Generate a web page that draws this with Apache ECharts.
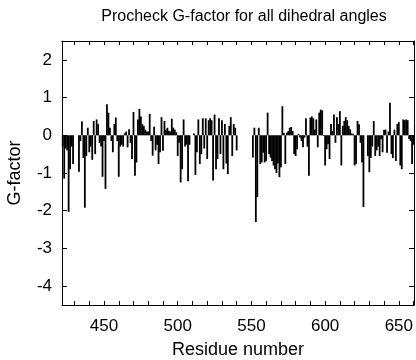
<!DOCTYPE html>
<html>
<head>
<meta charset="utf-8">
<script src="https://cdn.jsdelivr.net/npm/echarts@6/dist/echarts.min.js"></script>
<style>
html,body{margin:0;padding:0;background:#fff;}
#chart{width:416px;height:360px;}
</style>
</head>
<body>
<div id="chart"></div>
<script>
// ---- data ----
const firstResidue = 422;
const gFactor = [
  -0.3, -1.15, -0.35, -0.4, -2.03, -0.9, -0.3, -0.76,            // 422-429
  null, null, null,                                               // 430-432
  -0.97, -0.15, 0.37, -0.6, -1.92, -0.55, 0.2, -0.45,             // 433-440
  -0.3, -0.65, 0.38, -0.5, 0.42, 0.3, -0.2, -0.3, -1.1, -0.15,    // 441-450
  -1.42, 0.82, 0.6, 0.2, -0.15, -0.45, 0.3, 0.47, -0.15, -1.1,    // 451-460
  -0.3, -0.25, -0.3, 0.05, 0.1, -0.32, 0.16, -0.2, -0.63, 0.62,   // 461-470
  -1.07, -0.72, 0.42, 0.7, 0.5, 0.3, 0.25, 0.15, 0.1, 0.1,        // 471-480
  0.57, -0.15, -0.54, 0.23, -0.4, -0.25, -0.76, -0.45, 0.48, -0.41, // 481-490
  0.38, 0.15, 0.2, 0.12, 0.1, 0.44, 0.2, 0.15, 0.08, -0.55,       // 491-500
  -0.2, -1.25, -0.9, 0.42, -0.3, -0.25, -1.22, -0.25, null, null, // 501-510
  0.05, -1.05, -0.45, 0.42, -0.76, -0.5, 0.45, -0.35, 0.45, -0.63, // 511-520
  0.4, 0.45, 0.4, -1.2, 0.55, -0.9, -0.63, 0.45, -0.5, 0.4,       // 521-530
  -0.9, 0.3, -0.75, -1.03, 0.25, 0.48, -0.55, 0.3, 0.2, -0.4,     // 531-540
  null, null, null, null, null, null, null, null, null, null,     // 541-550
  -0.59, 0.2, -2.3, -1.64, 0.2, -0.76, -0.72, -0.46, -0.72, -0.68, // 551-560
  0.6, -0.5, -0.59, -0.68, -0.8, -0.9, -1.0, -0.75, -1.11, -0.85, // 561-570
  0.77, 0.06, -0.76, 0.07, 0.11, 0.2, 0.22, 0.11, -0.5, -0.55,    // 571-580
  -0.37, 0.03, -0.06, -0.15, -0.32, -0.06, 0.45, -0.3, -1.07, 0.47, // 581-590
  0.5, 0.45, 0.15, 0.42, -0.32, 0.6, 0.68, 0.66, -0.02, -0.8,     // 591-600
  -0.37, -0.24, -0.63, 0.3, 0.11, 0.55, -0.2, 0.48, 0.3, 0.64,    // 601-610
  -0.8, 0.25, 0.38, 0.48, 0.4, 0.25, 0.16, 0.05, 0.03, -0.8,      // 611-620
  -0.76, 0.38, 0.29, -0.2, -0.72, -1.9, null, null, -0.55, -0.98, // 621-630
  -0.6, -0.3, 0.38, -0.55, -0.4, -0.3, -0.55, -0.1, -0.45, 0.15,  // 631-640
  0.15, -0.46, 0.1, 0.86, -0.5, -0.6, 0.15, -0.68, 0.3, 0.35,     // 641-650
  -0.8, -0.9, 0.42, 0.4, 0.42, 0.4, -0.1, -0.15, -0.76, -0.25     // 651-660
];
const xLabelValues = [450, 500, 550, 600, 650];
const xTickValues = [430, 440, 450, 460, 470, 480, 490, 500, 510, 520, 530, 540, 550, 560, 570, 580, 590, 600, 610, 620, 630, 640, 650, 660];
const yTickValues = [-4, -3, -2, -1, 0, 1, 2];
const titleText = 'Procheck G-factor for all dihedral angles';
const xName = 'Residue number';
const yName = 'G-factor';

// ---- build ----
const seriesData = gFactor.map((v, i) => [firstResidue + i, v]);
const font = 'Liberation Sans, Arial, Helvetica, sans-serif';
const lineStyle = { color: '#000', width: 1 };

const chart = echarts.init(document.getElementById('chart'), null, { renderer: 'canvas' });
chart.setOption({
  animation: false,
  backgroundColor: '#fff',
  title: {
    text: titleText, left: 239, top: 4, textAlign: 'center',
    textStyle: { fontFamily: font, fontSize: 16, fontWeight: 'normal', color: '#000' }
  },
  grid: { left: 62, right: 2, top: 41, bottom: 55, containLabel: false, outerBoundsMode: 'none' },
  xAxis: [{
    type: 'value', position: 'bottom', min: 421.5, max: 660.3,
    name: xName, nameLocation: 'middle', nameGap: 36,
    nameTextStyle: { fontFamily: font, fontSize: 18, color: '#000' },
    axisLine: { show: true, onZero: false, lineStyle },
    axisTick: { show: true, inside: true, length: 4, customValues: xTickValues, lineStyle },
    axisLabel: { customValues: xLabelValues, margin: 13, fontFamily: font, fontSize: 17, color: '#000' },
    splitLine: { show: false }
  }, {
    type: 'value', position: 'top', min: 421.5, max: 660.3,
    axisLine: { show: true, onZero: false, lineStyle },
    axisTick: { show: true, inside: true, length: 4, customValues: xTickValues, lineStyle },
    axisLabel: { show: false },
    splitLine: { show: false }
  }],
  yAxis: [{
    type: 'value', position: 'left', min: -4.5, max: 2.5,
    name: yName, nameLocation: 'middle', nameGap: 38, nameRotate: 90,
    nameTextStyle: { fontFamily: font, fontSize: 18, color: '#000' },
    axisLine: { show: true, onZero: false, lineStyle },
    axisTick: { show: true, inside: true, length: 5, customValues: yTickValues, lineStyle },
    axisLabel: { customValues: yTickValues, margin: 10, fontFamily: font, fontSize: 17, color: '#000' },
    splitLine: { show: false }
  }, {
    type: 'value', position: 'right', min: -4.5, max: 2.5,
    axisLine: { show: true, onZero: false, lineStyle },
    axisTick: { show: true, inside: true, length: 5, customValues: yTickValues, lineStyle },
    axisLabel: { show: false },
    splitLine: { show: false }
  }],
  series: [{
    type: 'bar', xAxisIndex: 0, yAxisIndex: 0,
    data: seriesData, barWidth: 1.8,
    itemStyle: { color: '#000' },
    emphasis: { disabled: true }
  }]
});
</script>
</body>
</html>
